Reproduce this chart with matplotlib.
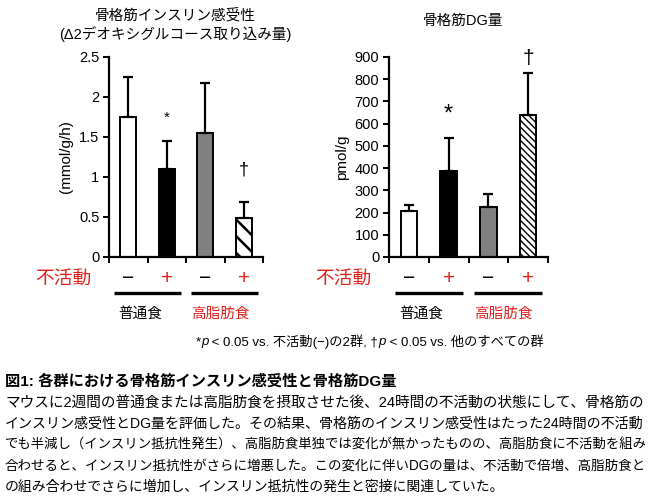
import matplotlib
matplotlib.use('Agg')
import matplotlib.pyplot as plt

plt.rcParams['font.family'] = ['Liberation Sans', 'Noto Sans CJK JP', 'DejaVu Sans']
plt.rcParams['hatch.color'] = 'black'

# データ
groups = ['普通食', '高脂肪食']
inactivity = ['−', '+', '−', '+']
ins_mean = [1.75, 1.10, 1.55, 0.49]
ins_err = [0.50, 0.35, 0.62, 0.20]
dg_mean = [205, 385, 225, 638]
dg_err = [30, 150, 60, 192]
ins_ticks = [0, 0.5, 1, 1.5, 2, 2.5]
ins_ticklabels = ['0', '0.5', '1', '1.5', '2', '2.5']
dg_ticks = [0, 100, 200, 300, 400, 500, 600, 700, 800, 900]

caption_title = '図1: 各群における骨格筋インスリン感受性と骨格筋DG量'
caption_lines = [
    'マウスに2週間の普通食または高脂肪食を摂取させた後、24時間の不活動の状態にして、骨格筋の',
    'インスリン感受性とDG量を評価した。その結果、骨格筋のインスリン感受性はたった24時間の不活動',
    'でも半減し（インスリン抵抗性発生）、高脂肪食単独では変化が無かったものの、高脂肪食に不活動を組み',
    '合わせると、インスリン抵抗性がさらに増悪した。この変化に伴いDGの量は、不活動で倍増、高脂肪食と',
    'の組み合わせでさらに増加し、インスリン抵抗性の発生と密接に関連していた。',
]

RED = '#e3211c'
colors = ['white', 'black', '#808080', 'white']

W, H = 650, 503
fig = plt.figure(figsize=(W / 100, H / 100), dpi=100)


def px_axes(x0, y0, x1, y1):
    return fig.add_axes([x0 / W, 1 - y1 / H, (x1 - x0) / W, (y1 - y0) / H])


def draw_panel(ax, mean, err, ylim, ticks, ticklabels, ylabel, hatch, hatch_lw, marks, marksize):
    x = range(len(mean))
    bars = ax.bar(x, mean, width=0.42, color=colors, edgecolor='black', linewidth=1.4)
    bars[3].set_hatch(hatch)
    try:
        bars[3].set_hatch_linewidth(hatch_lw)
    except AttributeError:
        pass
    ax.errorbar(x, mean, yerr=[[0] * len(err), err], fmt='none', ecolor='black',
                elinewidth=1.6, capsize=3.5, capthick=1.6)
    ax.set_xlim(-0.5, 3.5)
    ax.set_ylim(*ylim)
    ax.set_yticks(ticks)
    ax.set_yticklabels(ticklabels, fontsize=10.5)
    ax.set_xticks([-0.5, 0.5, 1.5, 2.5, 3.5])
    ax.set_xticklabels([])
    for s in ['top', 'right']:
        ax.spines[s].set_visible(False)
    for s in ['left', 'bottom']:
        ax.spines[s].set_linewidth(1.6)
    ax.tick_params(direction='out', length=4, width=1.4, pad=3)
    ax.set_ylabel(ylabel, fontsize=11)

    for (xi, yi, sym) in marks:
        ax.text(xi, yi, sym, ha='center', va='center', fontsize=marksize[sym])

    tr = ax.get_xaxis_transform()
    ax.text(-0.95, -0.11, '不活動', transform=tr, ha='right', va='center',
            fontsize=13.5, color=RED, clip_on=False)
    for i, s in enumerate(inactivity):
        ax.text(i, -0.11, s, transform=tr, ha='center', va='center',
                fontsize=15, color='black' if s == '−' else RED, clip_on=False)
    for c in [0.5, 2.5]:
        ax.plot([c - 0.86, c + 0.86], [-0.18, -0.18], transform=tr, color='black',
                lw=2.4, clip_on=False, solid_capstyle='butt')
    ax.text(0.32, -0.285, groups[0], transform=tr, ha='center', va='center',
            fontsize=10.5, clip_on=False)
    ax.text(2.38, -0.285, groups[1], transform=tr, ha='center', va='center',
            fontsize=10.5, color=RED, clip_on=False)


ax1 = px_axes(109, 57, 263, 257)
draw_panel(ax1, ins_mean, ins_err, (0, 2.5), ins_ticks, ins_ticklabels, '(mmol/g/h)',
           '\\\\', 1.8, [(1, 1.74, '*'), (3, 1.09, '†')], {'*': 11, '†': 13})

ax2 = px_axes(389, 57, 548, 257)
draw_panel(ax2, dg_mean, dg_err, (0, 900), dg_ticks, [str(t) for t in dg_ticks], 'pmol/g',
           '\\\\\\\\\\', 1.0, [(1, 640, '*'), (3, 893, '†')], {'*': 17, '†': 15})

# タイトル
fig.text(175 / W, 1 - 15 / H, '骨格筋インスリン感受性', ha='center', va='center', fontsize=10.5)
fig.text(175 / W, 1 - 34 / H, '(Δ2デオキシグルコース取り込み量)', ha='center', va='center', fontsize=10.5)
fig.text(463 / W, 1 - 21 / H, '骨格筋DG量', ha='center', va='center', fontsize=10.5)

# 脚注（pだけイタリック）
parts = [('p', 'italic'), (' < 0.05 vs. 不活動(−)の2群, †', 'normal'),
         ('p', 'italic'), (' < 0.05 vs. 他のすべての群', 'normal')]
chain = fig.text(196 / W, 1 - 342 / H, '*', ha='left', va='center', fontsize=9.5)
for txt, st in parts:
    chain = plt.annotate(txt, xy=(1, 0.5), xycoords=chain, ha='left', va='center',
                         fontsize=9.5, style=st, annotation_clip=False)

# キャプション
fig.text(5 / W, 1 - 381 / H, caption_title, ha='left', va='center', fontsize=11, weight='bold')
renderer = fig.canvas.get_renderer()
sizes = []
for i, line in enumerate(caption_lines):
    t = fig.text(5 / W, 1 - (403 + 21 * i) / H, line, ha='left', va='center', fontsize=11)
    if i < 4:
        w = t.get_window_extent(renderer).width
        sizes.append(11 * 640 / w)
        t.set_fontsize(sizes[-1])
    else:
        t.set_fontsize(sum(sizes) / len(sizes))

fig.savefig('out.png', dpi=100)
